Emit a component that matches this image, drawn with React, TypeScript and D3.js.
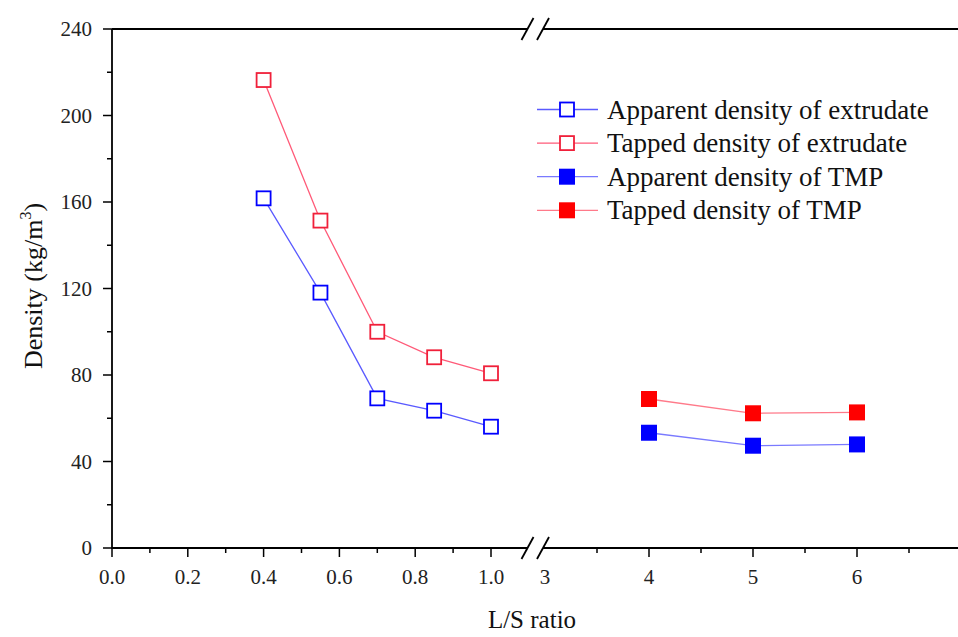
import React from "react";
import * as d3 from "d3";

const extrudateLS = [0.4, 0.55, 0.7, 0.85, 1.0];
const apparentExtrudate = [161.7, 118.1, 69.2, 63.5, 56.1];
const tappedExtrudate = [216.4, 151.4, 100.0, 88.2, 80.8];
const tmpLS = [4, 5, 6];
const apparentTMP = [53.3, 47.3, 47.9];
const tappedTMP = [68.9, 62.3, 62.7];

const leftMajorTicks = [0, 0.2, 0.4, 0.6, 0.8, 1.0];
const leftMinorTicks = [0.1, 0.3, 0.5, 0.7, 0.9];
const rightMajorTicks = [3, 4, 5, 6];
const rightMinorTicks = [3.5, 4.5, 5.5, 6.5];
const yMajorTicks = [0, 40, 80, 120, 160, 200, 240];
const yMinorTicks = [20, 60, 100, 140, 180, 220];

const legendItems = [
  { label: "Apparent density of extrudate", color: "#0000FF", line: "#5a5aff", filled: false },
  { label: "Tapped density of extrudate", color: "#F0203A", line: "#ff5a78", filled: false },
  { label: "Apparent density of TMP", color: "#0000FF", line: "#7a7aff", filled: true },
  { label: "Tapped density of TMP", color: "#FF0000", line: "#ff7a8a", filled: true },
];

const FONT = "'Liberation Serif', 'Times New Roman', serif";

export default function App() {
  const W = 958, H = 637;
  const y = d3.scaleLinear().domain([0, 240]).range([548, 29]);
  const xL = d3.scaleLinear().domain([0, 1]).range([112, 491]);
  const xR = d3.scaleLinear().domain([3, 6]).range([545, 857]);
  const y0 = y(0), yTop = y(240);
  const xAxisLeft = xL(0);
  const breakA = 527.5, breakB = 543;
  const line = d3.line<[number, number]>().x(d => d[0]).y(d => d[1]);

  const ext = (vals: number[]) => extrudateLS.map((v, i) => [xL(v), y(vals[i])] as [number, number]);
  const tmp = (vals: number[]) => tmpLS.map((v, i) => [xR(v), y(vals[i])] as [number, number]);

  const series = [
    { pts: ext(apparentExtrudate), ...legendItems[0] },
    { pts: ext(tappedExtrudate), ...legendItems[1] },
    { pts: tmp(apparentTMP), ...legendItems[2] },
    { pts: tmp(tappedTMP), ...legendItems[3] },
  ];

  const slash = (cx: number, cy: number, key: string) => (
    <line key={key} x1={cx - 6} y1={cy + 11} x2={cx + 6} y2={cy - 11} stroke="#000" strokeWidth={1.8} />
  );

  const tickFont = 21;

  return (
    <svg width={W} height={H} style={{ display: "block", position: "absolute", left: 0, top: 0, background: "#fff" }}>
      <rect width={W} height={H} fill="#fff" />
      <g stroke="#000" strokeWidth={1.8}>
        <line x1={xAxisLeft} y1={y0} x2={breakA} y2={y0} />
        <line x1={breakB} y1={y0} x2={W} y2={y0} />
        <line x1={xAxisLeft} y1={yTop} x2={breakA} y2={yTop} />
        <line x1={breakB} y1={yTop} x2={W} y2={yTop} />
        <line x1={xAxisLeft} y1={yTop} x2={xAxisLeft} y2={y0 + 1} />
      </g>
      {slash(breakA, y0, "b1")}
      {slash(breakB, y0, "b2")}
      {slash(breakA, yTop, "t1")}
      {slash(breakB, yTop, "t2")}
      {yMajorTicks.map(t => (
        <g key={"ym" + t}>
          <line x1={xAxisLeft - 9} x2={xAxisLeft} y1={y(t)} y2={y(t)} stroke="#000" strokeWidth={1.5} />
          <text x={xAxisLeft - 20} y={y(t)} dy="0.35em" textAnchor="end" fontFamily={FONT} fontSize={tickFont} fill="#222">{t}</text>
        </g>
      ))}
      {yMinorTicks.map(t => (
        <line key={"yn" + t} x1={xAxisLeft - 5} x2={xAxisLeft} y1={y(t)} y2={y(t)} stroke="#000" strokeWidth={1.5} />
      ))}
      {leftMajorTicks.map(t => (
        <g key={"xl" + t}>
          <line x1={xL(t)} x2={xL(t)} y1={y0} y2={y0 + 9} stroke="#000" strokeWidth={1.5} />
          <text x={xL(t)} y={y0 + 36} textAnchor="middle" fontFamily={FONT} fontSize={tickFont} fill="#222">{d3.format(".1f")(t)}</text>
        </g>
      ))}
      {leftMinorTicks.map(t => (
        <line key={"xln" + t} x1={xL(t)} x2={xL(t)} y1={y0} y2={y0 + 5} stroke="#000" strokeWidth={1.5} />
      ))}
      {rightMajorTicks.map(t => (
        <g key={"xr" + t}>
          {t !== 3 && <line x1={xR(t)} x2={xR(t)} y1={y0} y2={y0 + 9} stroke="#000" strokeWidth={1.5} />}
          <text x={xR(t)} y={y0 + 36} textAnchor="middle" fontFamily={FONT} fontSize={tickFont} fill="#222">{t}</text>
        </g>
      ))}
      {rightMinorTicks.map(t => (
        <line key={"xrn" + t} x1={xR(t)} x2={xR(t)} y1={y0} y2={y0 + 5} stroke="#000" strokeWidth={1.5} />
      ))}
      <text x={532} y={628} textAnchor="middle" fontFamily={FONT} fontSize={25} fill="#111">L/S ratio</text>
      <text transform="translate(42,286) rotate(-90)" textAnchor="middle" fontFamily={FONT} fontSize={26} fill="#111">
        Density (kg/m<tspan dy={-11} fontSize={16}>3</tspan><tspan dy={11}>)</tspan>
      </text>
      {series.map((s, i) => (
        <g key={"s" + i}>
          <path d={line(s.pts) || ""} fill="none" stroke={s.line} strokeWidth={1.3} />
          {s.pts.map((p, j) =>
            s.filled ? (
              <rect key={j} x={p[0] - 8} y={p[1] - 8} width={16} height={16} fill={s.color} />
            ) : (
              <rect key={j} x={p[0] - 7} y={p[1] - 7} width={14} height={14} fill="#fff" stroke={s.color} strokeWidth={1.8} />
            )
          )}
        </g>
      ))}
      {legendItems.map((it, i) => {
        const cy = 109.5 + i * 33.6;
        return (
          <g key={"lg" + i}>
            <line x1={537} x2={598} y1={cy} y2={cy} stroke={it.line} strokeWidth={1.3} />
            {it.filled ? (
              <rect x={567 - 8} y={cy - 8} width={16} height={16} fill={it.color} />
            ) : (
              <rect x={567 - 7} y={cy - 7} width={14} height={14} fill="#fff" stroke={it.color} strokeWidth={1.8} />
            )}
            <text x={607} y={cy + 9} fontFamily={FONT} fontSize={27} fill="#111">{it.label}</text>
          </g>
        );
      })}
    </svg>
  );
}
